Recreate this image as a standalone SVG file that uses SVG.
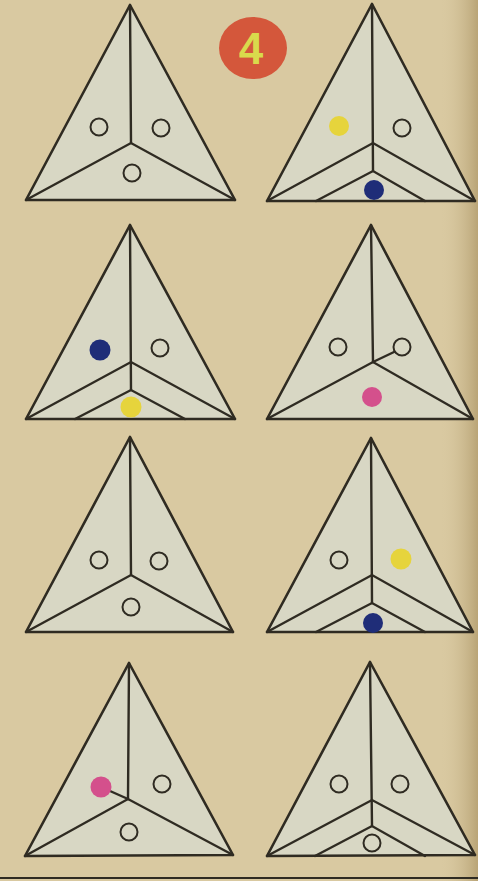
<svg xmlns="http://www.w3.org/2000/svg" width="478" height="881" viewBox="0 0 478 881">
<style>
.tri{fill:#d8d7c4;stroke:#2f2b22;stroke-width:2.6;stroke-linejoin:round}
.ln{fill:none;stroke:#2f2b22;stroke-width:2.4;stroke-linecap:round}
.ring{fill:none;stroke:#2f2b22;stroke-width:2}
.yel{fill:#e6d43c}
.blu{fill:#1f2d78}
.pnk{fill:#d4508c}
</style>
<defs>
<linearGradient id="edge" x1="0" x2="1" y1="0" y2="0">
<stop offset="0" stop-color="#d8c8a0" stop-opacity="0"/>
<stop offset="1" stop-color="#b9a476"/>
</linearGradient>
</defs>
<rect x="0" y="0" width="478" height="881" fill="#d9c9a1"/>
<rect x="440" y="0" width="38" height="881" fill="url(#edge)"/>
<g id="badge">
<ellipse cx="253" cy="48" rx="34" ry="31" fill="#d4573b"/>
<text x="251" y="64" font-family="Liberation Sans, Arial, sans-serif" font-weight="bold" font-size="44" fill="#d9da4c" text-anchor="middle">4</text>
</g>
<g id="t1">
<polygon class="tri" points="130,5 26,200 235,200"/>
<polyline class="ln" points="130,5 131,143"/>
<polyline class="ln" points="26,200 131,143 235,200"/>
<circle class="ring" cx="99" cy="127" r="8.5"/>
<circle class="ring" cx="161" cy="128" r="8.5"/>
<circle class="ring" cx="132" cy="173" r="8.5"/>
</g>
<g id="t2">
<polygon class="tri" points="372,4 267,201 475,201"/>
<polyline class="ln" points="372,4 373,171"/>
<polyline class="ln" points="267,201 373,143 475,201"/>
<polyline class="ln" points="316,201 373,171 425,201"/>
<circle class="yel" cx="339" cy="126" r="10"/>
<circle class="ring" cx="402" cy="128" r="8.5"/>
<circle class="blu" cx="374" cy="190" r="10"/>
</g>
<g id="t3">
<polygon class="tri" points="130,225 26,419 235,419"/>
<polyline class="ln" points="130,225 131,390"/>
<polyline class="ln" points="26,419 131,362 235,419"/>
<polyline class="ln" points="75,419 131,390 185,419"/>
<circle class="blu" cx="100" cy="350" r="10.5"/>
<circle class="ring" cx="160" cy="348" r="8.5"/>
<circle class="yel" cx="131" cy="407" r="10.5"/>
</g>
<g id="t4">
<polygon class="tri" points="371,225 267,419 473,419"/>
<polyline class="ln" points="371,225 373,362"/>
<polyline class="ln" points="267,419 373,362 473,419"/>
<polyline class="ln" points="373,362 394,352"/>
<circle class="ring" cx="338" cy="347" r="8.5"/>
<circle class="ring" cx="402" cy="347" r="8.5"/>
<circle class="pnk" cx="372" cy="397" r="10"/>
</g>
<g id="t5">
<polygon class="tri" points="130,437 26,632 233,632"/>
<polyline class="ln" points="130,437 131,575"/>
<polyline class="ln" points="26,632 131,575 233,632"/>
<circle class="ring" cx="99" cy="560" r="8.5"/>
<circle class="ring" cx="159" cy="561" r="8.5"/>
<circle class="ring" cx="131" cy="607" r="8.5"/>
</g>
<g id="t6">
<polygon class="tri" points="371,438 267,632 473,632"/>
<polyline class="ln" points="371,438 372,603"/>
<polyline class="ln" points="267,632 372,575 473,632"/>
<polyline class="ln" points="316,632 372,603 425,632"/>
<circle class="ring" cx="339" cy="560" r="8.5"/>
<circle class="yel" cx="401" cy="559" r="10.5"/>
<circle class="blu" cx="373" cy="623" r="10"/>
</g>
<g id="t7">
<polygon class="tri" points="129,663 25,856 233,855"/>
<polyline class="ln" points="129,663 128,799"/>
<polyline class="ln" points="25,856 128,799 233,855"/>
<polyline class="ln" points="101,787 128,799"/>
<circle class="pnk" cx="101" cy="787" r="10.5"/>
<circle class="ring" cx="162" cy="784" r="8.5"/>
<circle class="ring" cx="129" cy="832" r="8.5"/>
</g>
<g id="t8">
<polygon class="tri" points="370,662 267,856 475,855"/>
<polyline class="ln" points="370,662 372,826"/>
<polyline class="ln" points="267,856 372,800 475,855"/>
<polyline class="ln" points="315,856 372,826 425,856"/>
<circle class="ring" cx="339" cy="784" r="8.5"/>
<circle class="ring" cx="400" cy="784" r="8.5"/>
<circle class="ring" cx="372" cy="843" r="8.5"/>
</g>
<g id="connectors">
<line x1="0" y1="878" x2="478" y2="878" stroke="#2f2b22" stroke-width="2.2"/>
</g>
</svg>
